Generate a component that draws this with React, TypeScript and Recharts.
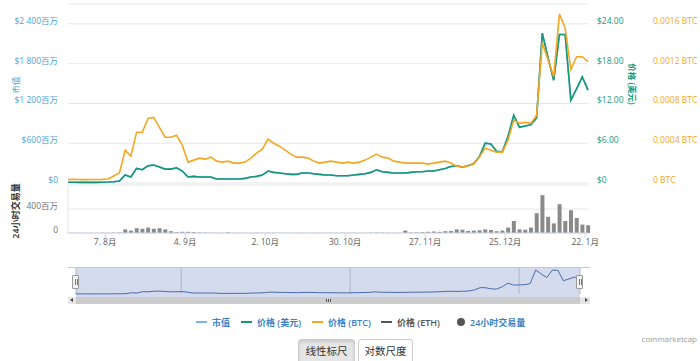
import { LineChart, BarChart, Line, Bar, XAxis, YAxis, CartesianGrid } from "recharts";

// one point every 2 days, starting 25 Jul 2017
const marketCap = [
  12, 11, 10, 10, 11, 10, 12, 15, 20, 30,
  120, 90, 220, 200, 260, 270, 240, 210, 210, 230,
  180, 90, 100, 90, 90, 90, 60, 60, 60, 60,
  60, 70, 90, 100, 120, 180, 160, 150, 140, 130,
  130, 150, 150, 140, 130, 120, 120, 110, 110, 110,
  120, 130, 140, 160, 200, 170, 160, 150, 150, 150,
  160, 170, 170, 180, 180, 200, 220, 250, 260, 240,
  260, 290, 400, 600, 590, 480, 470, 700, 1020, 840,
  860, 880, 980, 2260, 1890, 1550, 2240, 2240, 1250, 1420,
  1600, 1400,
];
const priceUsd = [
  0.12, 0.11, 0.1, 0.1, 0.11, 0.1, 0.12, 0.15, 0.2, 0.3,
  1.2, 0.9, 2.2, 2.0, 2.6, 2.7, 2.4, 2.1, 2.1, 2.3,
  1.8, 0.9, 1.0, 0.9, 0.9, 0.9, 0.6, 0.6, 0.6, 0.6,
  0.6, 0.7, 0.9, 1.0, 1.2, 1.8, 1.6, 1.5, 1.4, 1.3,
  1.3, 1.5, 1.5, 1.4, 1.3, 1.2, 1.2, 1.1, 1.1, 1.1,
  1.2, 1.3, 1.4, 1.6, 2.0, 1.7, 1.6, 1.5, 1.5, 1.5,
  1.6, 1.7, 1.7, 1.8, 1.8, 2.0, 2.2, 2.5, 2.6, 2.4,
  2.6, 2.9, 4.0, 6.0, 5.9, 4.8, 4.7, 7.0, 10.2, 8.4,
  8.6, 8.8, 9.8, 22.6, 18.9, 15.5, 22.4, 22.4, 12.5, 14.2,
  16.0, 14.0,
];
const priceBtc = [
  0.000035, 0.000036, 0.000035, 0.000034, 0.000035, 0.000035, 0.000036, 0.00004, 0.00007, 0.0001,
  0.00033, 0.00027, 0.00051, 0.00051, 0.00065, 0.00066, 0.00056, 0.00046, 0.00046, 0.00048,
  0.00038, 0.00021, 0.00023, 0.00025, 0.00024, 0.00026, 0.00022, 0.00021, 0.00022, 0.0002,
  0.0002, 0.00021, 0.00025, 0.0003, 0.00034, 0.00044, 0.0004, 0.00037, 0.00033, 0.00029,
  0.00026, 0.00026, 0.00025, 0.00022, 0.0002, 0.00021, 0.00022, 0.00021, 0.0002, 0.00021,
  0.0002, 0.00021, 0.00023, 0.00026, 0.00029, 0.00026, 0.00025, 0.00022, 0.00021, 0.0002,
  0.0002, 0.0002, 0.0002, 0.00019, 0.0002, 0.00021, 0.00022, 0.0002, 0.00017, 0.00016,
  0.00017, 0.00019, 0.00026, 0.00035, 0.00033, 0.00031, 0.00031, 0.00043, 0.00063, 0.0006,
  0.00061, 0.0006, 0.00068, 0.00141, 0.00124, 0.00107, 0.0017, 0.00156, 0.00114, 0.00127,
  0.00127, 0.00122,
];
const volume = [
  2, 2, 2, 2, 2, 2, 3, 3, 5, 10,
  60, 40, 80, 70, 90, 70, 80, 60, 30, 15,
  20, 20, 15, 10, 5, 5, 3, 3, 12, 3,
  3, 3, 3, 4, 4, 5, 4, 3, 3, 3,
  3, 3, 3, 3, 3, 3, 3, 3, 3, 3,
  3, 3, 4, 5, 8, 5, 4, 3, 3, 40,
  8, 10, 15, 20, 25, 20, 30, 35, 60, 55,
  35, 40, 45, 60, 50, 30, 40, 90, 200, 60,
  55, 90, 330, 630, 270, 160, 480, 200, 380, 250,
  140, 130,
];

const xTickDays = [13, 41, 69, 97, 125, 153, 181];
const xTickLabels = ["7. 8月", "4. 9月", "2. 10月", "30. 10月", "27. 11月", "25. 12月", "22. 1月"];
const navTickDays = [38, 99, 160];
const navTickLabels = ["9月 '17", "11月 '17", "1月 '18"];
const capTicks = [0, 600, 1200, 1800, 2400];
const usdTicks = [0, 6, 12, 18, 24];
const btcTicks = [0, 0.0004, 0.0008, 0.0012, 0.0016];
const volTicks = [0, 400];

const legendItems = [
  { name: "市值", color: "#7cb5ec", kind: "line", left: 196 },
  { name: "价格 (美元)", color: "#14987a", kind: "line", left: 241 },
  { name: "价格 (BTC)", color: "#f5a623", kind: "line", left: 312 },
  { name: "价格 (ETH)", color: "#555555", kind: "line", left: 381 },
  { name: "24小时交易量", color: "#555555", kind: "dot", left: 457 },
];

const rows = priceUsd.map((_, i) => ({
  day: i * 2,
  cap: marketCap[i],
  usd: priceUsd[i],
  btc: priceBtc[i],
  vol: volume[i],
}));

const FONT = '"Open Sans", "Noto Sans CJK SC", sans-serif';
const BLUE = "#4ea2d8";
const GREEN = "#14987a";
const ORANGE = "#f5a623";
const LABEL_SIZE = 8.5;

const sideTick = (color: string, anchor: "start" | "end", fmt: (v: number) => string) => (props: any) => (
  <text x={props.x} y={props.y - 3.5} textAnchor={anchor} dominantBaseline="central" fill={color} fontSize={LABEL_SIZE} fontFamily={FONT}>
    {fmt(props.payload.value)}
  </text>
);

const fmtCap = (v: number) => (v === 0 ? "$0" : `$${v.toLocaleString("en-US").replace(/,/g, " ")}百万`);
const fmtUsd = (v: number) => (v === 0 ? "$0" : `$${v.toFixed(2)}`);
const fmtBtc = (v: number) => (v === 0 ? "0 BTC" : `${v.toFixed(4)} BTC`);
const fmtVol = (v: number) => (v === 0 ? "0" : `${v}百万`);
const fmtX = (v: number) => xTickLabels[xTickDays.indexOf(v)] ?? "";

const navTick = (props: any) => (
  <text x={props.x + 3} y={props.y - 2} fill="#8a8a8a" fontSize={LABEL_SIZE} fontFamily={FONT}>
    {navTickLabels[navTickDays.indexOf(props.payload.value)]}
  </text>
);

const Handle = ({ left }: { left: number }) => (
  <div style={{ position: "absolute", left: left - 4, top: 275, width: 7, height: 14, background: "#f2f2f2", border: "1px solid #999", boxSizing: "border-box", borderRadius: 1 }}>
    <div style={{ position: "absolute", left: 1.5, top: 3, width: 1, height: 6, background: "#777" }} />
    <div style={{ position: "absolute", left: 3.5, top: 3, width: 1, height: 6, background: "#777" }} />
  </div>
);

export default function App() {
  return (
    <div style={{ position: "absolute", left: 0, top: 0, width: 700, height: 361, background: "#fff", fontFamily: FONT, overflow: "hidden" }}>
      {/* price chart */}
      <div style={{ position: "absolute", left: 0, top: 0 }}>
        <LineChart width={700} height={186} data={rows} margin={{ top: 4, right: 0, bottom: 3, left: 0 }}>
          <CartesianGrid yAxisId="cap" vertical={false} stroke="#e6e6e6" />
          <XAxis dataKey="day" type="number" domain={[0, 182]} hide />
          <YAxis yAxisId="cap" orientation="left" width={68} domain={[0, 2700]} ticks={capTicks} interval={0} axisLine={false} tickLine={false} tickSize={0} tickMargin={10} tick={sideTick(BLUE, "end", fmtCap)} />
          <YAxis yAxisId="a_usd" orientation="right" width={56} domain={[0, 27]} ticks={usdTicks} interval={0} axisLine={false} tickLine={false} tickSize={0} tickMargin={9} tick={sideTick(GREEN, "start", fmtUsd)} />
          <YAxis yAxisId="b_btc" orientation="right" width={56} domain={[0, 0.0018]} ticks={btcTicks} interval={0} axisLine={false} tickLine={false} tickSize={0} tickMargin={9} tick={sideTick(ORANGE, "start", fmtBtc)} />
          <Line yAxisId="cap" dataKey="cap" stroke="#7cb5ec" strokeWidth={1.6} dot={false} isAnimationActive={false} />
          <Line yAxisId="a_usd" dataKey="usd" stroke={GREEN} strokeWidth={1.6} dot={false} isAnimationActive={false} />
          <Line yAxisId="b_btc" dataKey="btc" stroke={ORANGE} strokeWidth={1.6} dot={false} isAnimationActive={false} />
        </LineChart>
      </div>

      {/* volume chart */}
      <div style={{ position: "absolute", left: 0, top: 183 }}>
        <BarChart width={700} height={70} data={rows} margin={{ top: 2, right: 112, bottom: 0, left: 0 }}>
          <CartesianGrid yAxisId="vol" vertical={false} stroke="#e6e6e6" />
          <XAxis dataKey="day" type="number" domain={[0, 182]} ticks={xTickDays} interval={0} tickFormatter={fmtX} height={20} tickSize={5} tickMargin={1} axisLine={{ stroke: "#ccd6eb" }} tickLine={{ stroke: "#ccd6eb" }} tick={{ fontSize: LABEL_SIZE, fill: "#606060", fontFamily: FONT }} />
          <YAxis yAxisId="vol" orientation="left" width={68} domain={[0, 800]} ticks={volTicks} interval={0} axisLine={{ stroke: "#e6e6e6" }} tickLine={false} tickSize={0} tickMargin={10} tick={sideTick("#707070", "end", fmtVol)} />
          <Bar yAxisId="vol" dataKey="vol" fill="#8a8a8a" barSize={4} isAnimationActive={false} />
        </BarChart>
      </div>

      {/* axis titles */}
      <div style={{ position: "absolute", left: 15, top: 85, transform: "translate(-50%,-50%) rotate(-90deg)", color: BLUE, fontSize: 8.5, whiteSpace: "nowrap" }}>市值</div>
      <div style={{ position: "absolute", left: 15, top: 211, transform: "translate(-50%,-50%) rotate(-90deg)", color: "#333", fontSize: 9, fontWeight: 600, whiteSpace: "nowrap" }}>24小时交易量</div>
      <div style={{ position: "absolute", left: 633, top: 84, transform: "translate(-50%,-50%) rotate(90deg)", color: GREEN, fontSize: 8.5, fontWeight: 600, whiteSpace: "nowrap" }}>价格 (美元)</div>

      {/* navigator */}
      <div style={{ position: "absolute", left: 68, top: 267, width: 522, height: 1, background: "#c8c8c8" }} />
      <div style={{ position: "absolute", left: 76, top: 268, width: 504, height: 29, background: "#d3dbec" }} />
      <div style={{ position: "absolute", left: 0, top: 266 }}>
        <LineChart width={700} height={30} data={rows} margin={{ top: 2, right: 120, bottom: 2, left: 76 }}>
          <CartesianGrid horizontal={false} stroke="#aeb7cc" />
          <XAxis dataKey="day" type="number" domain={[0, 182]} ticks={navTickDays} interval={0} height={0} axisLine={false} tickLine={false} tickSize={0} tickMargin={0} tick={navTick} />
          <YAxis hide domain={[0, 2450]} />
          <Line dataKey="cap" stroke="#4a6bb0" strokeWidth={1} dot={false} isAnimationActive={false} />
        </LineChart>
      </div>
      <Handle left={76} />
      <Handle left={580} />

      {/* scrollbar */}
      <div style={{ position: "absolute", left: 68, top: 297, width: 522, height: 7, background: "#e6e6e6" }} />
      <div style={{ position: "absolute", left: 76, top: 297, width: 504, height: 7, background: "#cccccc" }} />
      <div style={{ position: "absolute", left: 70, top: 298, width: 0, height: 0, borderTop: "2.5px solid transparent", borderBottom: "2.5px solid transparent", borderRight: "3px solid #444" }} />
      <div style={{ position: "absolute", left: 585, top: 298, width: 0, height: 0, borderTop: "2.5px solid transparent", borderBottom: "2.5px solid transparent", borderLeft: "3px solid #444" }} />
      {[-2, 0, 2].map((o) => (
        <div key={o} style={{ position: "absolute", left: 328 + o, top: 299, width: 1, height: 3, background: "#555" }} />
      ))}

      {/* legend */}
      {legendItems.map((item) => (
        <div key={item.name} style={{ position: "absolute", left: item.left, top: 314, height: 16, display: "flex", alignItems: "center", fontSize: 9, fontWeight: 600, color: item.name === "价格 (ETH)" ? "#555" : "#3b82c4", whiteSpace: "nowrap" }}>
          {item.kind === "line" ? (
            <span style={{ display: "inline-block", width: 11, height: 2, background: item.color, marginRight: 5 }} />
          ) : (
            <span style={{ display: "inline-block", width: 8, height: 8, borderRadius: "50%", background: item.color, marginRight: 5 }} />
          )}
          {item.name}
        </div>
      ))}

      <div style={{ position: "absolute", right: 3, top: 333, fontSize: 8, color: "#999" }}>coinmarketcap</div>

      {/* scale buttons */}
      <div style={{ position: "absolute", left: 298, top: 339, width: 57, height: 26, background: "#e6e6e6", border: "1px solid #ccc", borderRadius: 3, boxSizing: "border-box", fontSize: 10.5, lineHeight: "22px", color: "#333", textAlign: "center", boxShadow: "inset 0 2px 3px rgba(0,0,0,0.12)" }}>线性标尺</div>
      <div style={{ position: "absolute", left: 358, top: 339, width: 55, height: 26, background: "#fff", border: "1px solid #ccc", borderRadius: 3, boxSizing: "border-box", fontSize: 10.5, lineHeight: "22px", color: "#333", textAlign: "center" }}>对数尺度</div>
    </div>
  );
}
